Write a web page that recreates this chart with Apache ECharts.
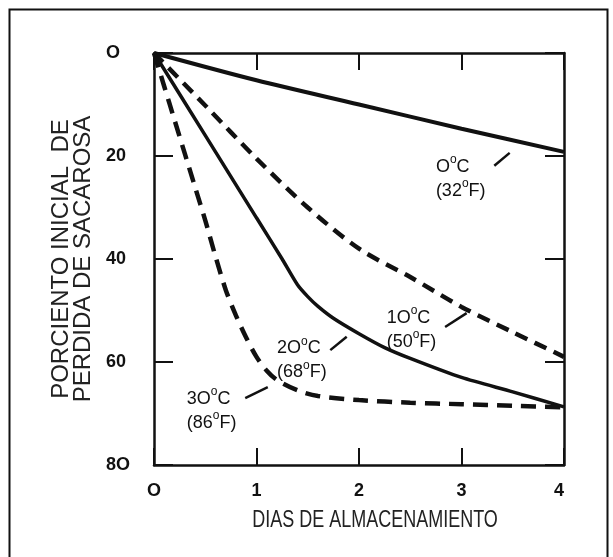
<!DOCTYPE html>
<html lang="es">
<head>
    <meta charset="UTF-8">
    <title>Perdida de sacarosa</title>
    <style>
        html, body { margin: 0; padding: 0; background: #fff; }
        #main { width: 613px; height: 557px; }
    </style>
</head>
<body>
<div id="main"></div>
<script src="https://cdn.jsdelivr.net/npm/echarts@6/dist/echarts.min.js"></script>
<script>
    // dias de almacenamiento / porciento de perdida
    const dias0 = [0, 1, 2, 3, 4];
    const perdida0 = [0, 5.3, 10, 14.7, 19.2];

    const dias10 = [0, 0.5, 1, 1.5, 2, 2.5, 3, 3.5, 4];
    const perdida10 = [0, 10.2, 20.5, 30, 38, 43.5, 49.3, 54.2, 59];

    const dias20 = [0, 0.5, 1, 1.25, 1.4, 1.5, 1.6, 1.75, 2, 2.25, 2.5, 3, 3.5, 4];
    const perdida20 = [0, 16, 32, 40, 45, 47.3, 49.2, 51.5, 54.5, 57.2, 59.3, 63, 65.8, 68.7];

    const dias30 = [0, 0.1, 0.2, 0.3, 0.4, 0.5, 0.6, 0.7, 0.8, 0.9, 1, 1.1, 1.2, 1.4, 1.6, 2, 2.5, 3, 3.5, 4];
    const perdida30 = [0, 6.5, 13, 19.5, 26, 32.5, 39.5, 46, 51, 55.3, 59, 61.7, 63.5, 65.5, 66.6, 67.4, 67.9, 68.2, 68.5, 68.8];

    const yTicks = {0: 'O', 20: '20', 40: '40', 60: '60', 80: '8O'};
    const xTicks = {0: 'O', 1: '1', 2: '2', 3: '3', 4: '4'};

    // etiquetas de cada curva y su rayita
    const etiquetas = [
        {texto: '{n|O}{s|o}{n|C}\n{n|(32}{s|o}{n|F)}', pos: [2.75, 23.8], raya: [[3.32, 21.9], [3.47, 19.4]]},
        {texto: '{n|1O}{s|o}{n|C}\n{n|(50}{s|o}{n|F)}', pos: [2.27, 53.2], raya: [[2.84, 53.2], [3.05, 50.5]]},
        {texto: '{n|2O}{s|o}{n|C}\n{n|(68}{s|o}{n|F)}', pos: [1.2, 59.1], raya: [[1.72, 57.7], [1.88, 55.1]]},
        {texto: '{n|3O}{s|o}{n|C}\n{n|(86}{s|o}{n|F)}', pos: [0.32, 68.9], raya: [[0.89, 67.0], [1.11, 64.9]]}
    ];

    const pares = (xs, ys) => xs.map((x, i) => [x, ys[i]]);
    const negro = '#111';

    const dom = document.getElementById('main');
    const myChart = echarts.init(dom, null, {renderer: 'canvas'});

    const ejeX = {
        type: 'value', min: 0, max: 4, interval: 1,
        axisLine: {show: true, onZero: false, lineStyle: {color: negro, width: 2.5}},
        axisTick: {show: true, inside: true, length: 17, lineStyle: {color: negro, width: 2}},
        splitLine: {show: false}
    };
    const ejeY = {
        type: 'value', min: 0, max: 80, interval: 20, inverse: true,
        axisLine: {show: true, onZero: false, lineStyle: {color: negro, width: 2.5}},
        axisTick: {show: true, inside: true, length: 19, lineStyle: {color: negro, width: 2}},
        splitLine: {show: false}
    };

    const ricos = {
        n: {fontFamily: 'Liberation Sans', fontSize: 18, color: negro, lineHeight: 24, verticalAlign: 'bottom'},
        s: {fontFamily: 'Liberation Sans', fontSize: 12, color: negro, lineHeight: 24, verticalAlign: 'top', padding: [2, 0, 0, 0]}
    };

    const option = {
        animation: false,
        backgroundColor: '#fff',
        grid: {left: 154, right: 49, top: 53, bottom: 92, containLabel: false, outerBoundsMode: 'none'},
        xAxis: [
            Object.assign({}, ejeX, {
                position: 'bottom',
                axisLabel: {
                    margin: 17, color: negro, fontFamily: 'Liberation Sans', fontWeight: 'bold', fontSize: 18,
                    alignMaxLabel: 'right',
                    formatter: v => xTicks[v]
                }
            }),
            Object.assign({}, ejeX, {position: 'top', axisLabel: {show: false}})
        ],
        yAxis: [
            Object.assign({}, ejeY, {
                position: 'left',
                name: 'PORCIENTO INICIAL  DE\nPERDIDA DE SACAROSA',
                nameLocation: 'middle', nameGap: 58, nameRotate: 90,
                nameTextStyle: {fontFamily: 'Liberation Sans', fontSize: 24, lineHeight: 22, color: '#222'},
                axisLabel: {
                    margin: 48, align: 'left', color: negro, fontFamily: 'Liberation Sans', fontWeight: 'bold', fontSize: 18,
                    formatter: v => yTicks[v]
                }
            }),
            Object.assign({}, ejeY, {position: 'right', axisLabel: {show: false}})
        ],
        graphic: [
            {
                type: 'rect', left: 7, top: 7,
                shape: {width: 598, height: 560},
                style: {fill: 'none', stroke: negro, lineWidth: 2}
            },
            {
                // titulo del eje x, letra angosta y alta como en el original
                type: 'text', x: 375, y: 520, scaleY: 1.35,
                style: {
                    text: 'DIAS DE ALMACENAMIENTO', font: '18px "Liberation Sans"',
                    fill: '#222', align: 'center', verticalAlign: 'middle'
                }
            }
        ],
        series: [
            {
                name: '0C', type: 'line', data: pares(dias0, perdida0), smooth: 0.3,
                showSymbol: false, lineStyle: {color: negro, width: 4}
            },
            {
                name: '10C', type: 'line', data: pares(dias10, perdida10), smooth: 0.3,
                showSymbol: false, lineStyle: {color: negro, width: 4.5, type: [13, 8]}
            },
            {
                name: '20C', type: 'line', data: pares(dias20, perdida20), smooth: 0.25,
                showSymbol: false, lineStyle: {color: negro, width: 3.5}
            },
            {
                name: '30C', type: 'line', data: pares(dias30, perdida30), smooth: 0.3,
                showSymbol: false, lineStyle: {color: negro, width: 4.5, type: [15, 9]}
            },
            {
                // etiquetas y rayitas
                name: 'notas', type: 'scatter', symbolSize: 0, silent: true,
                itemStyle: {color: negro, opacity: 1},
                data: etiquetas.map(e => ({value: e.pos, label: {formatter: e.texto}})),
                label: {show: true, position: 'right', distance: 0, rich: ricos, align: 'left', color: negro},
                markLine: {
                    silent: true, symbol: 'none', animation: false,
                    lineStyle: {color: negro, width: 2.5, type: 'solid'},
                    label: {show: false},
                    data: etiquetas.map(e => [{coord: e.raya[0]}, {coord: e.raya[1]}])
                }
            }
        ]
    };

    myChart.setOption(option);
</script>
</body>
</html>
